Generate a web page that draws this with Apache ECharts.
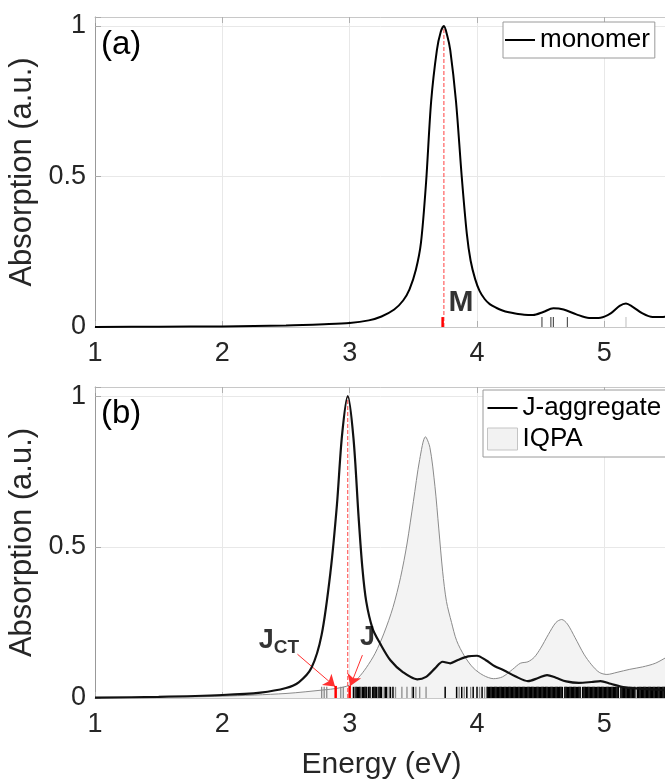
<!DOCTYPE html>
<html>
<head>
<meta charset="utf-8">
<script src="https://cdn.jsdelivr.net/npm/echarts@6/dist/echarts.min.js"></script>
<style>
html, body { margin: 0; padding: 0; background: #fff; }
#chart { width: 665px; height: 780px; }
</style>
</head>
<body>
<div id="chart"></div>
<script>
// ---- data ----
// (a) monomer spectrum
var monoE = [1.0, 1.5, 2.0, 2.5, 2.8, 3.0, 3.15, 3.25, 3.35, 3.42, 3.47, 3.52, 3.56, 3.6, 3.64, 3.685, 3.715, 3.74,
    3.765, 3.79, 3.835, 3.88, 3.92, 3.95, 3.985, 4.02, 4.06, 4.1, 4.15, 4.2, 4.25, 4.3, 4.37, 4.44, 4.52, 4.6, 4.68,
    4.78, 4.88, 4.97, 5.05, 5.12, 5.17, 5.22, 5.3, 5.38, 5.45, 5.5];
var monoA = [0.0, 0.001, 0.002, 0.005, 0.009, 0.013, 0.022, 0.035, 0.058, 0.088, 0.125, 0.19, 0.28, 0.48, 0.75, 0.92, 0.98, 1.0,
    0.97, 0.92, 0.75, 0.5, 0.31, 0.22, 0.16, 0.12, 0.093, 0.076, 0.064, 0.055, 0.049, 0.045, 0.041, 0.04, 0.05, 0.062, 0.058,
    0.042, 0.03, 0.031, 0.045, 0.07, 0.078, 0.068, 0.045, 0.033, 0.033, 0.036];
var monoSticksDark = [4.51, 4.58, 4.6, 4.71];
var monoSticksLight = [5.17];
var monoStickH = 0.033;
var peakM = 3.74;
var stickM = 3.73;

// (b) J-aggregate and IQPA spectra
var aggE = [1.0, 1.5, 2.0, 2.3, 2.5, 2.6, 2.7, 2.78, 2.85, 2.9, 2.94, 2.985, 3.03, 3.07, 3.1, 3.13, 3.18, 3.24, 3.32,
    3.42, 3.53, 3.6, 3.67, 3.73, 3.79, 3.85, 3.93, 4.0, 4.07, 4.14, 4.21, 4.3, 4.4, 4.48, 4.55, 4.62, 4.7, 4.8,
    4.9, 4.97, 5.05, 5.15, 5.3, 5.5];
var aggA = [0.001, 0.004, 0.01, 0.018, 0.033, 0.052, 0.1, 0.21, 0.42, 0.64, 0.87, 1.0, 0.86, 0.6, 0.43, 0.32, 0.23, 0.18, 0.125,
    0.085, 0.062, 0.07, 0.098, 0.12, 0.115, 0.126, 0.138, 0.14, 0.125, 0.105, 0.092, 0.072, 0.056, 0.066, 0.076, 0.067, 0.055, 0.05,
    0.053, 0.056, 0.047, 0.036, 0.03, 0.026];
var iqpaE = [1.0, 1.5, 2.0, 2.5, 2.8, 2.9, 3.0, 3.07, 3.13, 3.2, 3.27, 3.34, 3.4, 3.45, 3.5, 3.55, 3.595, 3.63, 3.67, 3.7,
    3.73, 3.76, 3.8, 3.84, 3.9, 3.97, 4.05, 4.13, 4.2, 4.28, 4.34, 4.4, 4.45, 4.5, 4.56, 4.62, 4.665, 4.71, 4.77,
    4.84, 4.9, 4.96, 5.02, 5.1, 5.2, 5.3, 5.4, 5.5];
var iqpaA = [0.0, 0.002, 0.006, 0.015, 0.027, 0.032, 0.043, 0.068, 0.1, 0.148, 0.215, 0.3, 0.4, 0.51, 0.65, 0.79, 0.865, 0.83, 0.7, 0.56,
    0.42, 0.32, 0.25, 0.19, 0.14, 0.1, 0.075, 0.064, 0.07, 0.095, 0.115, 0.12, 0.135, 0.165, 0.21, 0.25, 0.26, 0.245, 0.2,
    0.145, 0.11, 0.085, 0.078, 0.085, 0.095, 0.103, 0.115, 0.138];
var aggSticksGray = [2.78, 2.8, 2.82, 2.93, 2.95, 3.04, 3.09, 3.14, 3.22, 3.27, 3.31, 3.36, 3.41, 3.45, 3.49, 3.52, 3.55, 3.6,
    3.86, 3.9, 3.95, 4.02, 4.06];
var aggSticksDark = [3.03, 3.05, 3.06, 3.07, 3.08, 3.1, 3.11, 3.12, 3.13, 3.15, 3.16, 3.18, 3.19, 3.2, 3.21, 3.23, 3.24, 3.25,
    3.28, 3.29, 3.32, 3.34, 3.5, 3.75, 3.84, 3.88, 3.92, 3.97, 4.0, 4.04,
    4.08, 4.09, 4.1, 4.11, 4.12, 4.13, 4.14, 4.15, 4.16, 4.17, 4.18, 4.19, 4.2, 4.21, 4.22, 4.23, 4.24, 4.25, 4.26, 4.27,
    4.28, 4.29, 4.3, 4.31, 4.32, 4.33, 4.34, 4.35, 4.36, 4.37, 4.38, 4.39, 4.4, 4.41, 4.42, 4.43, 4.44, 4.45, 4.46, 4.47,
    4.48, 4.49, 4.5, 4.51, 4.52, 4.53, 4.54, 4.55, 4.56, 4.57, 4.58, 4.59, 4.6, 4.61, 4.62, 4.63, 4.64, 4.65, 4.66, 4.67,
    4.69, 4.7, 4.71, 4.72, 4.73, 4.74, 4.75, 4.76, 4.77, 4.78, 4.79, 4.8, 4.81, 4.83, 4.84, 4.85, 4.86, 4.87, 4.88, 4.89,
    4.9, 4.91, 4.92, 4.93, 4.94, 4.95, 4.96, 4.97, 4.98, 4.99, 5.0, 5.01, 5.02, 5.03, 5.04, 5.05, 5.06, 5.07, 5.08, 5.09,
    5.1, 5.11, 5.13, 5.14, 5.15, 5.16, 5.17, 5.18, 5.19, 5.2, 5.21, 5.22, 5.23, 5.24, 5.26, 5.27, 5.28, 5.29, 5.3, 5.31,
    5.32, 5.33, 5.34, 5.35, 5.36, 5.37, 5.38, 5.39, 5.4, 5.41, 5.42, 5.43, 5.44, 5.45, 5.46, 5.47, 5.48, 5.49];
var aggStickH = 0.037;
var peakJ = 2.985;
var sticksRedJ = [2.89, 3.0];
var redStickH = 0.04;
var arrowJct = [[2.59, 0.145], [2.885, 0.038]];
var arrowJ = [[3.1, 0.142], [3.005, 0.04]];

// tick labels
var xTicks = [1, 2, 3, 4, 5];
var yTicks = [0, 0.5, 1];

var FONT = 'Liberation Sans, Arial, Helvetica, sans-serif';

function pairs(xs, ys) {
    return xs.map(function (x, i) { return [x, ys[i]]; });
}
function sticks(xs, h) {
    return xs.map(function (x) { return [x, h]; });
}
function stickRender(color, width) {
    return function (params, api) {
        var p0 = api.coord([api.value(0), 0]);
        var p1 = api.coord([api.value(0), api.value(1)]);
        return {
            type: 'line',
            shape: { x1: p0[0], y1: p0[1], x2: p1[0], y2: p1[1] },
            style: { stroke: color, lineWidth: width }
        };
    };
}
function xLabel(v) {
    return xTicks.indexOf(Math.round(v * 1000) / 1000) >= 0 ? String(v) : '';
}
function yLabel(v) {
    return yTicks.indexOf(Math.round(v * 1000) / 1000) >= 0 ? String(v) : '';
}

function bottomAxis(grid, withName) {
    return {
        type: 'value', gridIndex: grid, position: 'bottom', min: 1, max: 5.5, interval: 1,
        axisLine: { show: true, lineStyle: { color: '#c8c8c8', width: 1 } },
        axisTick: { show: true, inside: true, length: 6, lineStyle: { color: '#b0b0b0' } },
        axisLabel: { formatter: xLabel, fontSize: 27, fontFamily: FONT, color: '#262626', margin: 13 },
        splitLine: { show: true, lineStyle: { color: '#e8e8e8', width: 1 } },
        name: withName ? 'Energy (eV)' : '',
        nameLocation: 'middle', nameGap: 52,
        nameTextStyle: { fontSize: 30, fontFamily: FONT, color: '#262626' }
    };
}
function topAxis(grid) {
    return {
        type: 'value', gridIndex: grid, position: 'top', min: 1, max: 5.5, interval: 1,
        axisLine: { show: true, lineStyle: { color: '#c8c8c8', width: 1 } },
        axisTick: { show: true, inside: true, length: 6, lineStyle: { color: '#b0b0b0' } },
        axisLabel: { show: false },
        splitLine: { show: false }
    };
}
function leftAxis(grid) {
    return {
        type: 'value', gridIndex: grid, min: 0, max: 1.03, interval: 0.5,
        axisLine: { show: true, lineStyle: { color: '#999', width: 1 } },
        axisTick: { show: true, inside: true, length: 6, lineStyle: { color: '#aaa' } },
        axisLabel: { formatter: yLabel, fontSize: 27, fontFamily: FONT, color: '#262626', margin: 9 },
        splitLine: { show: true, lineStyle: { color: '#e8e8e8', width: 1 } },
        name: 'Absorption (a.u.)', nameLocation: 'middle', nameGap: 44,
        nameTextStyle: { fontSize: 31, fontFamily: FONT, color: '#262626' }
    };
}

var dom = document.getElementById('chart');
var myChart = echarts.init(dom, null, { renderer: 'canvas' });

var option = {
    backgroundColor: '#fff',
    animation: false,
    title: [
        { text: '(a)', left: 101, top: 28, padding: 0, textStyle: { fontSize: 33, fontWeight: 'normal', fontFamily: FONT, color: '#000' } },
        { text: '(b)', left: 101, top: 397, padding: 0, textStyle: { fontSize: 33, fontWeight: 'normal', fontFamily: FONT, color: '#000' } }
    ],
    legend: [
        {
            left: 503, top: 22, orient: 'vertical', selectedMode: false,
            backgroundColor: '#fff', borderColor: '#9a9a9a', borderWidth: 1, borderRadius: 0,
            padding: [4, 5, 4, 2], itemWidth: 30, itemHeight: 22, itemGap: 3,
            textStyle: { fontSize: 26, fontFamily: FONT, color: '#000', lineHeight: 28 },
            data: [{ name: 'monomer', icon: 'path://M0,0H30V2H0Z' }]
        },
        {
            left: 483, top: 390, orient: 'vertical', selectedMode: false,
            backgroundColor: '#fff', borderColor: '#9a9a9a', borderWidth: 1, borderRadius: 0,
            padding: [4, 5, 4, 4], itemWidth: 30, itemHeight: 22, itemGap: 3,
            textStyle: { fontSize: 26, fontFamily: FONT, color: '#000', lineHeight: 28 },
            data: [
                { name: 'J-aggregate', icon: 'path://M0,0H30V2H0Z' },
                { name: 'IQPA', icon: 'rect', itemStyle: { color: '#f2f2f2', borderColor: '#c4c4c4', borderWidth: 1 } }
            ]
        }
    ],
    grid: [
        { left: 95, top: 17, width: 573, height: 310, outerBoundsMode: 'none', show: false },
        { left: 95, top: 387, width: 573, height: 311, outerBoundsMode: 'none', show: false }
    ],
    xAxis: [bottomAxis(0, false), topAxis(0), bottomAxis(1, true), topAxis(1)],
    yAxis: [leftAxis(0), leftAxis(1)],
    series: [
        // ---- panel (a) ----
        {
            name: 'monomer', type: 'line', xAxisIndex: 0, yAxisIndex: 0,
            data: pairs(monoE, monoA), smooth: 0.3, symbol: 'none', z: 5,
            itemStyle: { color: '#000' }, lineStyle: { color: '#000', width: 2 }
        },
        {
            type: 'custom', xAxisIndex: 0, yAxisIndex: 0, z: 4,
            renderItem: stickRender('#555', 1.2), data: sticks(monoSticksDark, monoStickH)
        },
        {
            type: 'custom', xAxisIndex: 0, yAxisIndex: 0, z: 4,
            renderItem: stickRender('#c8c8c8', 1.2), data: sticks(monoSticksLight, monoStickH)
        },
        {
            type: 'custom', xAxisIndex: 0, yAxisIndex: 0, z: 6,
            renderItem: stickRender('#ff0000', 2.5), data: sticks([stickM], monoStickH)
        },
        {
            type: 'line', xAxisIndex: 0, yAxisIndex: 0, z: 3, symbol: 'none',
            data: [[peakM, 0], [peakM, 1]],
            lineStyle: { color: '#ff4040', width: 1, type: [4, 2] }
        },
        {
            type: 'scatter', xAxisIndex: 0, yAxisIndex: 0, symbolSize: 0, z: 7,
            data: [{ name: 'M', value: [3.875, 0.081] }],
            label: { show: true, position: 'inside', formatter: '{b}', fontSize: 30, fontWeight: 'bold', fontFamily: FONT, color: '#000' }
        },
        // ---- panel (b) ----
        {
            name: 'IQPA', type: 'line', xAxisIndex: 2, yAxisIndex: 1,
            data: pairs(iqpaE, iqpaA), smooth: 0.3, symbol: 'none', z: 2,
            itemStyle: { color: '#f2f2f2' },
            lineStyle: { color: '#8a8a8a', width: 1 },
            areaStyle: { color: '#f3f3f3', opacity: 1 }
        },
        {
            type: 'custom', xAxisIndex: 2, yAxisIndex: 1, z: 3,
            renderItem: stickRender('#8c8c8c', 1.3), data: sticks(aggSticksGray, aggStickH)
        },
        {
            type: 'custom', xAxisIndex: 2, yAxisIndex: 1, z: 3,
            renderItem: stickRender('#000', 1.5), data: sticks(aggSticksDark, aggStickH)
        },
        {
            type: 'custom', xAxisIndex: 2, yAxisIndex: 1, z: 6,
            renderItem: stickRender('#ff0000', 2.5), data: sticks(sticksRedJ, redStickH)
        },
        {
            type: 'line', xAxisIndex: 2, yAxisIndex: 1, z: 4, symbol: 'none',
            data: [[peakJ, 0], [peakJ, 1]],
            lineStyle: { color: '#ff4040', width: 1, type: [4, 2] },
            markLine: {
                silent: true, symbol: ['none', 'arrow'], symbolSize: 11,
                lineStyle: { color: '#ff3030', width: 1, type: 'solid' },
                label: { show: false },
                data: [
                    [{ coord: arrowJct[0] }, { coord: arrowJct[1] }],
                    [{ coord: arrowJ[0] }, { coord: arrowJ[1] }]
                ]
            }
        },
        {
            name: 'J-aggregate', type: 'line', xAxisIndex: 2, yAxisIndex: 1,
            data: pairs(aggE, aggA), smooth: 0.3, symbol: 'none', z: 5,
            itemStyle: { color: '#000' }, lineStyle: { color: '#111', width: 2.2 }
        },
        {
            type: 'scatter', xAxisIndex: 2, yAxisIndex: 1, symbolSize: 0, z: 7,
            data: [
                { name: '{j|J}{ct|CT}', value: [2.445, 0.19] },
                { name: '{j|J}', value: [3.14, 0.2] }
            ],
            label: {
                show: true, position: 'inside', formatter: '{b}', color: '#000',
                rich: {
                    j: { fontSize: 27, fontWeight: 'bold', fontFamily: FONT, color: '#000', lineHeight: 34, verticalAlign: 'middle' },
                    ct: { fontSize: 19, fontWeight: 'bold', fontFamily: FONT, color: '#000', lineHeight: 19, verticalAlign: 'bottom' }
                }
            }
        }
    ]
};

if (option && typeof option === 'object') {
    myChart.setOption(option, true);
}
</script>
</body>
</html>
